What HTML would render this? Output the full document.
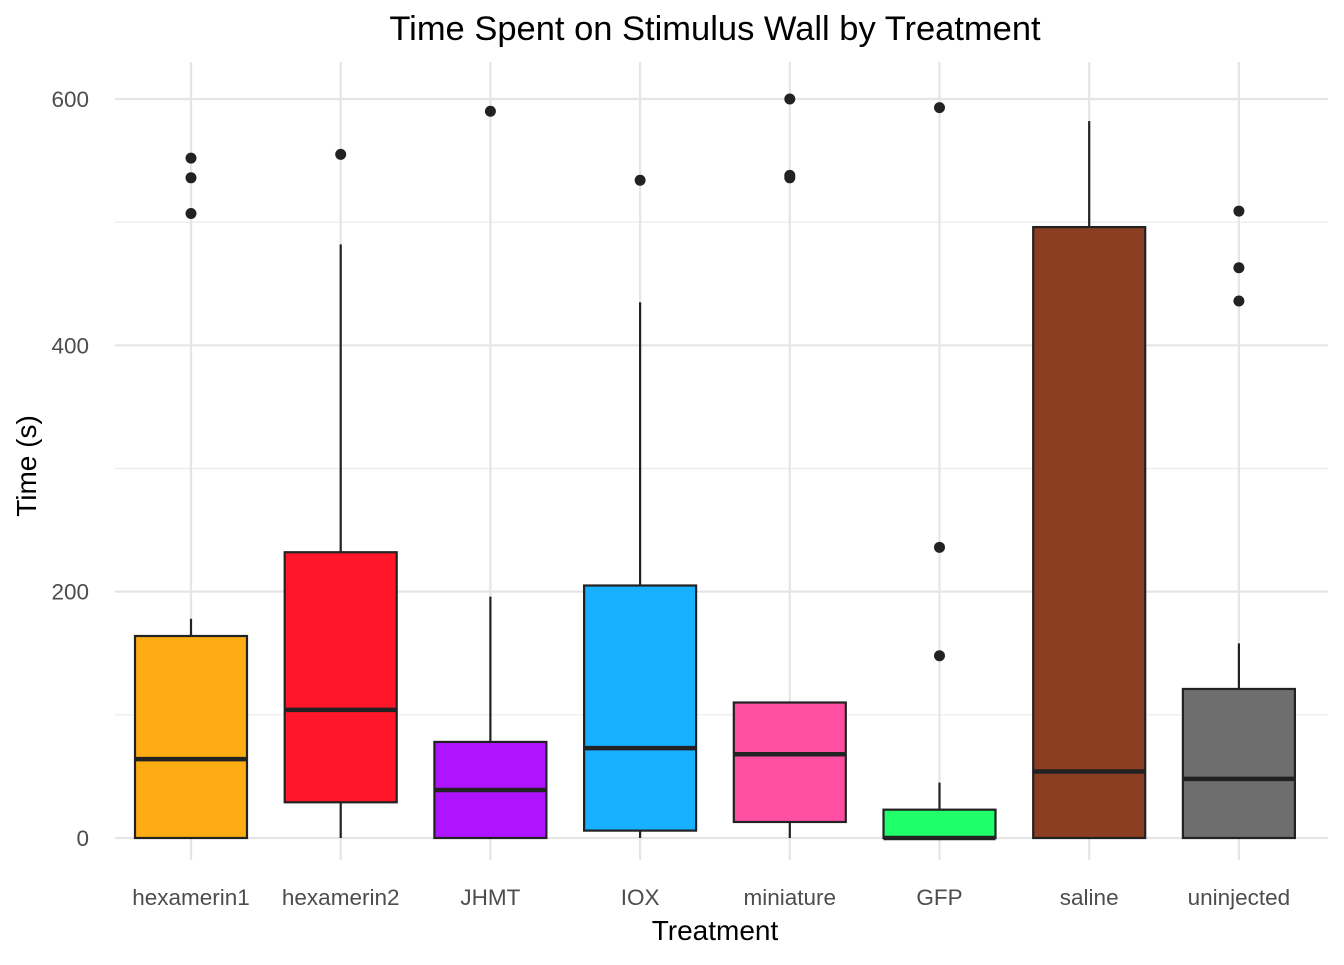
<!DOCTYPE html>
<html><head><meta charset="utf-8"><style>
body{margin:0;background:#fff;font-family:"Liberation Sans",sans-serif}
</style></head><body>
<svg id="chart" width="1344" height="960" xmlns="http://www.w3.org/2000/svg">
<rect width="1344" height="960" fill="#fff"/>
<text x="715" y="40" font-size="34.5" text-anchor="middle" fill="#000">Time Spent on Stimulus Wall by Treatment</text>
<text x="715" y="940" font-size="28" text-anchor="middle" fill="#000">Treatment</text>
<text transform="translate(36,466) rotate(-90)" font-size="28" text-anchor="middle" fill="#000">Time (s)</text>
<g id="grid"></g><g id="marks"></g><g id="labels"></g>
</svg>
<script>
const categories=["hexamerin1","hexamerin2","JHMT","IOX","miniature","GFP","saline","uninjected"];
const colors=["#FDAC13","#FF1628","#AE14FF","#17B1FF","#FF4FA3","#1FFF6A","#8B3E21","#6E6E6E"];
const q1=[0,29,0,6,13,0,0,0];
const medians=[64,104,39,73,68,0,54,48];
const q3=[164,232,78,205,110,23,496,121];
const whiskerLow=[0,0,0,0,0,0,0,0];
const whiskerHigh=[178,482,196,435,110,45,582,158];
const outliers=[[552,536,507],[555],[590],[534],[600,538,536],[593,236,148],[],[509,463,436]];
const yTicks=[0,200,400,600];
const yMinor=[100,300,500];
const NS="http://www.w3.org/2000/svg";
const y=v=>838-v*1.2317;
const x=i=>191+i*149.7;
const L=115,R=1328,T=62,B=860;
function mk(tag,attrs,parent){const e=document.createElementNS(NS,tag);for(const k in attrs)e.setAttribute(k,attrs[k]);document.getElementById(parent).appendChild(e);return e;}
yMinor.forEach(v=>{const e=mk("line",{x1:L,x2:R,y1:y(v),y2:y(v),stroke:"#EBEBEB","stroke-width":1.2},"grid");

});
yTicks.forEach(v=>{const e=mk("line",{x1:L,x2:R,y1:y(v),y2:y(v),stroke:"#E5E5E5","stroke-width":2.2},"grid");


const t=mk("text",{x:89,y:y(v)+8,"font-size":22.5,"text-anchor":"end",fill:"#4D4D4D"},"labels");t.textContent=v;

});
categories.forEach((c,i)=>{const g=mk("line",{x1:x(i),x2:x(i),y1:T,y2:B,stroke:"#E5E5E5","stroke-width":2.2},"grid");


const t=mk("text",{x:x(i),y:905,"font-size":22.5,"text-anchor":"middle",fill:"#4D4D4D"},"labels");t.textContent=c;


const w1=mk("line",{x1:x(i),x2:x(i),y1:y(q3[i]),y2:y(whiskerHigh[i]),stroke:"#222","stroke-width":2.2},"marks");


const w2=mk("line",{x1:x(i),x2:x(i),y1:y(q1[i]),y2:y(whiskerLow[i]),stroke:"#222","stroke-width":2.2},"marks");


const b=mk("rect",{x:x(i)-56,y:y(q3[i]),width:112,height:y(q1[i])-y(q3[i]),fill:colors[i],stroke:"#222","stroke-width":2.2},"marks");


const m=mk("line",{x1:x(i)-56,x2:x(i)+56,y1:y(medians[i]),y2:y(medians[i]),stroke:"#222","stroke-width":4.5},"marks");


outliers[i].forEach(v=>{const p=mk("circle",{cx:x(i),cy:y(v),r:5.5,fill:"#222"},"marks");

});
});
</script>
</body></html>
